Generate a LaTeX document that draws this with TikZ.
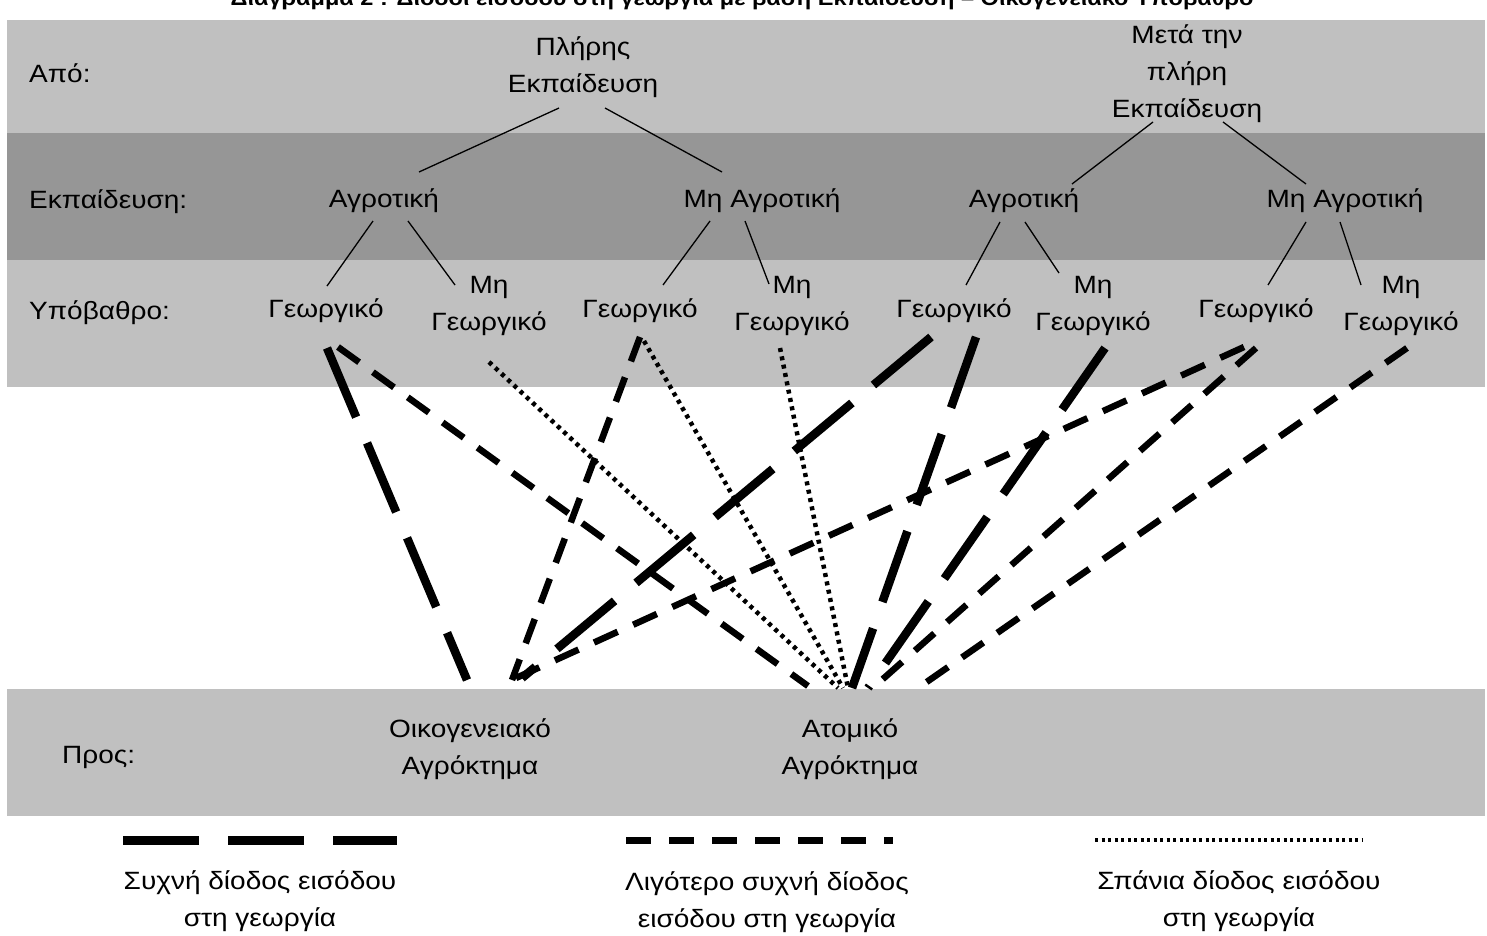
\documentclass[tikz,border=0pt]{standalone}
\usepackage{fontspec}
\setmainfont{Liberation Sans}[FakeStretch=1.12]
\usetikzlibrary{calc}
\definecolor{lg}{HTML}{C0C0C0}
\definecolor{dg}{HTML}{969696}
\begin{document}
\begin{tikzpicture}[x=1pt,y=-1pt,
  txt/.style={font=\fontsize{25}{37}\selectfont, align=center, inner sep=0pt},
  lbl/.style={txt, anchor=west},
  tree/.style={line width=1.3pt},
  freq/.style={line width=8.5pt, dash pattern=on 75pt off 28pt},
  less/.style={line width=6.5pt, dash pattern=on 26pt off 17pt},
  rare/.style={line width=4.5pt, dash pattern=on 4pt off 4.5pt},
]
\useasboundingbox (0,0) rectangle (1487,935);
% bands
\fill[lg] (7,20) rectangle (1485,133);
\fill[dg] (7,133) rectangle (1485,260);
\fill[lg] (7,260) rectangle (1485,387);
\fill[lg] (7,689) rectangle (1485,816);
% title (cut by the page top, as in the reference)
\node[font=\bfseries\fontsize{21}{24}\selectfont, anchor=base, inner sep=0pt] (title) at (742,5)
  {Διάγραμμα 2 : Δίοδοι εισόδου στη γεωργία με βάση Εκπαίδευση – Οικογενειακό Υπόβαθρο};
% row labels
\node[lbl] (lapo) at (29,73) {Από:};
\node[lbl] (lekp) at (29,202) {Εκπαίδευση:};
\node[lbl] (lyp) at (29,313) {Υπόβαθρο:};
\node[lbl] (lpros) at (62,757) {Προς:};
% tree nodes
\node[txt] (pl) at (583,67) {Πλήρης\\Εκπαίδευση};
\node[txt] (mt) at (1187,74) {Μετά την\\πλήρη\\Εκπαίδευση};
\node[txt] (a1) at (384,201) {Αγροτική};
\node[txt] (m1) at (762,201) {Μη Αγροτική};
\node[txt] (a2) at (1024,201) {Αγροτική};
\node[txt] (m2) at (1345,201) {Μη Αγροτική};
\node[txt] (g1) at (326,311) {Γεωργικό};
\node[txt] (n1) at (489,306) {Μη\\Γεωργικό};
\node[txt] (g2) at (640,311) {Γεωργικό};
\node[txt] (n2) at (792,306) {Μη\\Γεωργικό};
\node[txt] (g3) at (954,311) {Γεωργικό};
\node[txt] (n3) at (1093,306) {Μη\\Γεωργικό};
\node[txt] (g4) at (1256,311) {Γεωργικό};
\node[txt] (n4) at (1401,306) {Μη\\Γεωργικό};
\node[txt] (oik) at (470,749) {Οικογενειακό\\Αγρόκτημα};
\node[txt] (ato) at (850,749) {Ατομικό\\Αγρόκτημα};
% tree lines
\draw[tree] ($(pl)+(-24,41)$) -- ($(a1)+(35,-29)$);
\draw[tree] ($(pl)+(22,41)$) -- ($(m1)+(-40,-29)$);
\draw[tree] ($(a1)+(-11,20)$) -- ($(g1)+(1,-25)$);
\draw[tree] ($(a1)+(24,20)$) -- ($(n1)+(-34,-21)$);
\draw[tree] ($(m1)+(-52,20)$) -- ($(g2)+(23,-26)$);
\draw[tree] ($(m1)+(-17,20)$) -- ($(n2)+(-23,-22)$);
\draw[tree] ($(mt)+(-34,48)$) -- ($(a2)+(48,-17)$);
\draw[tree] ($(mt)+(36,48)$) -- ($(m2)+(-39,-17)$);
\draw[tree] ($(a2)+(-24,21)$) -- ($(g3)+(12,-26)$);
\draw[tree] ($(a2)+(1,21)$) -- ($(n3)+(-34,-33)$);
\draw[tree] ($(m2)+(-39,21)$) -- ($(g4)+(12,-26)$);
\draw[tree] ($(m2)+(-5,21)$) -- ($(n4)+(-40,-21)$);
% entry paths
\draw[freq] ($(g1)+(1,37)$) -- ($(oik)+(-3,-69)$);
\draw[less] ($(g1)+(12,36)$) -- ($(ato)+(-42,-63)$);
\draw[rare] ($(n1)+(0,56)$) -- ($(ato)+(-12,-61)$);
\draw[less] ($(g2)+(0,26)$) -- ($(oik)+(42,-69)$);
\draw[rare] ($(g2)+(4,30)$) -- ($(ato)+(-7,-61)$);
\draw[rare] ($(n2)+(-12,42)$) -- ($(ato)+(-2,-61)$);
\draw[freq] ($(g3)+(-23,26)$) -- ($(oik)+(52,-71)$);
\draw[freq] ($(g3)+(22,26)$) -- ($(ato)+(2,-61)$);
\draw[freq] ($(n3)+(12,42)$) -- ($(ato)+(18,-61)$);
\draw[less] ($(g4)+(-12,36)$) -- ($(oik)+(46,-71)$);
\draw[less] ($(g4)+(0,37)$) -- ($(ato)+(25,-63)$);
\draw[less] ($(n4)+(6,42)$) -- ($(ato)+(68,-61)$);
% legend
\coordinate (k1a) at (123,840); \coordinate (k1b) at (397,840);
\coordinate (k2a) at (626,840); \coordinate (k2b) at (893,840);
\coordinate (k3a) at (1095,840); \coordinate (k3b) at (1362,840);
\draw[line width=9pt, dash pattern=on 76pt off 29pt] (k1a) -- (k1b);
\draw[line width=7pt, dash pattern=on 25pt off 18pt] (k2a) -- (k2b);
\draw[line width=4.5pt, dash pattern=on 3pt off 3.5pt] (k3a) -- (k3b);
\node[txt] (t1) at (260,901) {Συχνή δίοδος εισόδου\\στη γεωργία};
\node[txt] (t2) at (767,902) {Λιγότερο συχνή δίοδος\\εισόδου στη γεωργία};
\node[txt] (t3) at (1239,901) {Σπάνια δίοδος εισόδου\\στη γεωργία};
\end{tikzpicture}
\end{document}
